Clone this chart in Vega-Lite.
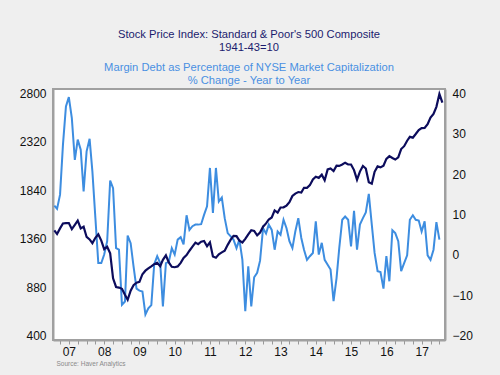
{
  "$schema": "https://vega.github.io/schema/vega-lite/v6.json",
  "width": 392,
  "height": 251,
  "autosize": {"type": "none"},
  "padding": {"left": 53, "top": 89, "right": 55, "bottom": 35},
  "background": "#efefef",
  "config": {
    "font": "Liberation Sans",
    "view": {"fill": "white", "stroke": "#a0a0a0", "strokeWidth": 2}
  },
  "title": {
    "text": ["Stock Price Index: Standard & Poor's 500 Composite", "1941-43=10"],
    "subtitle": ["Margin Debt as Percentage of NYSE Market Capitalization", "% Change - Year to Year"],
    "color": "#1b1b6e",
    "subtitleColor": "#4a90e2",
    "font": "Liberation Sans",
    "subtitleFont": "Liberation Sans",
    "fontSize": 11.2,
    "subtitleFontSize": 11.2,
    "fontWeight": "normal",
    "lineHeight": 12.5,
    "subtitleLineHeight": 13,
    "subtitlePadding": 9,
    "anchor": "middle",
    "offset": 1
  },
  "datasets": {
    "sp": [
      {"d": "2007-02-01", "v": 1444}, {"d": "2007-03-01", "v": 1407}, {"d": "2007-04-01", "v": 1463}, {"d": "2007-05-01", "v": 1511}, {"d": "2007-06-01", "v": 1515}, {"d": "2007-07-01", "v": 1515}, {"d": "2007-08-01", "v": 1455}, {"d": "2007-09-01", "v": 1497}, {"d": "2007-10-01", "v": 1539}, {"d": "2007-11-01", "v": 1463}, {"d": "2007-12-01", "v": 1479},
      {"d": "2008-01-01", "v": 1378}, {"d": "2008-02-01", "v": 1354}, {"d": "2008-03-01", "v": 1317}, {"d": "2008-04-01", "v": 1370}, {"d": "2008-05-01", "v": 1404}, {"d": "2008-06-01", "v": 1342}, {"d": "2008-07-01", "v": 1257}, {"d": "2008-08-01", "v": 1281}, {"d": "2008-09-01", "v": 1217}, {"d": "2008-10-01", "v": 969}, {"d": "2008-11-01", "v": 884}, {"d": "2008-12-01", "v": 878},
      {"d": "2009-01-01", "v": 866}, {"d": "2009-02-01", "v": 806}, {"d": "2009-03-01", "v": 757}, {"d": "2009-04-01", "v": 848}, {"d": "2009-05-01", "v": 902}, {"d": "2009-06-01", "v": 926}, {"d": "2009-07-01", "v": 935}, {"d": "2009-08-01", "v": 1010}, {"d": "2009-09-01", "v": 1045}, {"d": "2009-10-01", "v": 1067}, {"d": "2009-11-01", "v": 1088}, {"d": "2009-12-01", "v": 1110},
      {"d": "2010-01-01", "v": 1123}, {"d": "2010-02-01", "v": 1089}, {"d": "2010-03-01", "v": 1152}, {"d": "2010-04-01", "v": 1197}, {"d": "2010-05-01", "v": 1126}, {"d": "2010-06-01", "v": 1083}, {"d": "2010-07-01", "v": 1079}, {"d": "2010-08-01", "v": 1087}, {"d": "2010-09-01", "v": 1122}, {"d": "2010-10-01", "v": 1171}, {"d": "2010-11-01", "v": 1199}, {"d": "2010-12-01", "v": 1242},
      {"d": "2011-01-01", "v": 1282}, {"d": "2011-02-01", "v": 1322}, {"d": "2011-03-01", "v": 1307}, {"d": "2011-04-01", "v": 1331}, {"d": "2011-05-01", "v": 1338}, {"d": "2011-06-01", "v": 1287}, {"d": "2011-07-01", "v": 1325}, {"d": "2011-08-01", "v": 1185}, {"d": "2011-09-01", "v": 1173}, {"d": "2011-10-01", "v": 1207}, {"d": "2011-11-01", "v": 1226}, {"d": "2011-12-01", "v": 1243},
      {"d": "2012-01-01", "v": 1300}, {"d": "2012-02-01", "v": 1352}, {"d": "2012-03-01", "v": 1389}, {"d": "2012-04-01", "v": 1386}, {"d": "2012-05-01", "v": 1341}, {"d": "2012-06-01", "v": 1323}, {"d": "2012-07-01", "v": 1359}, {"d": "2012-08-01", "v": 1404}, {"d": "2012-09-01", "v": 1444}, {"d": "2012-10-01", "v": 1438}, {"d": "2012-11-01", "v": 1394}, {"d": "2012-12-01", "v": 1422},
      {"d": "2013-01-01", "v": 1480}, {"d": "2013-02-01", "v": 1512}, {"d": "2013-03-01", "v": 1551}, {"d": "2013-04-01", "v": 1570}, {"d": "2013-05-01", "v": 1640}, {"d": "2013-06-01", "v": 1619}, {"d": "2013-07-01", "v": 1669}, {"d": "2013-08-01", "v": 1671}, {"d": "2013-09-01", "v": 1688}, {"d": "2013-10-01", "v": 1721}, {"d": "2013-11-01", "v": 1783}, {"d": "2013-12-01", "v": 1807},
      {"d": "2014-01-01", "v": 1822}, {"d": "2014-02-01", "v": 1817}, {"d": "2014-03-01", "v": 1864}, {"d": "2014-04-01", "v": 1864}, {"d": "2014-05-01", "v": 1890}, {"d": "2014-06-01", "v": 1947}, {"d": "2014-07-01", "v": 1973}, {"d": "2014-08-01", "v": 1962}, {"d": "2014-09-01", "v": 1993}, {"d": "2014-10-01", "v": 1938}, {"d": "2014-11-01", "v": 2045}, {"d": "2014-12-01", "v": 2055},
      {"d": "2015-01-01", "v": 2029}, {"d": "2015-02-01", "v": 2083}, {"d": "2015-03-01", "v": 2080}, {"d": "2015-04-01", "v": 2094}, {"d": "2015-05-01", "v": 2112}, {"d": "2015-06-01", "v": 2095}, {"d": "2015-07-01", "v": 2094}, {"d": "2015-08-01", "v": 2039}, {"d": "2015-09-01", "v": 1944}, {"d": "2015-10-01", "v": 2024}, {"d": "2015-11-01", "v": 2080}, {"d": "2015-12-01", "v": 2054},
      {"d": "2016-01-01", "v": 1918}, {"d": "2016-02-01", "v": 1904}, {"d": "2016-03-01", "v": 2022}, {"d": "2016-04-01", "v": 2075}, {"d": "2016-05-01", "v": 2066}, {"d": "2016-06-01", "v": 2083}, {"d": "2016-07-01", "v": 2149}, {"d": "2016-08-01", "v": 2177}, {"d": "2016-09-01", "v": 2158}, {"d": "2016-10-01", "v": 2143}, {"d": "2016-11-01", "v": 2165}, {"d": "2016-12-01", "v": 2247},
      {"d": "2017-01-01", "v": 2275}, {"d": "2017-02-01", "v": 2329}, {"d": "2017-03-01", "v": 2367}, {"d": "2017-04-01", "v": 2359}, {"d": "2017-05-01", "v": 2395}, {"d": "2017-06-01", "v": 2434}, {"d": "2017-07-01", "v": 2454}, {"d": "2017-08-01", "v": 2456}, {"d": "2017-09-01", "v": 2493}, {"d": "2017-10-01", "v": 2557}, {"d": "2017-11-01", "v": 2593}, {"d": "2017-12-01", "v": 2664},
      {"d": "2018-01-01", "v": 2790}, {"d": "2018-02-01", "v": 2705}
    ],
    "md": [
      {"d": "2007-02-01", "v": 12.2}, {"d": "2007-03-01", "v": 11.4}, {"d": "2007-04-01", "v": 14.9}, {"d": "2007-05-01", "v": 27.2}, {"d": "2007-06-01", "v": 36.7}, {"d": "2007-07-01", "v": 39.0}, {"d": "2007-08-01", "v": 33.8}, {"d": "2007-09-01", "v": 23.5}, {"d": "2007-10-01", "v": 28.5}, {"d": "2007-11-01", "v": 26.0}, {"d": "2007-12-01", "v": 15.7},
      {"d": "2008-01-01", "v": 25.6}, {"d": "2008-02-01", "v": 28.7}, {"d": "2008-03-01", "v": 20.6}, {"d": "2008-04-01", "v": 9.1}, {"d": "2008-05-01", "v": -2.0}, {"d": "2008-06-01", "v": -2.0}, {"d": "2008-07-01", "v": 0.1}, {"d": "2008-08-01", "v": 3.4}, {"d": "2008-09-01", "v": 18.4}, {"d": "2008-10-01", "v": 16.5}, {"d": "2008-11-01", "v": 1.7}, {"d": "2008-12-01", "v": 1.3},
      {"d": "2009-01-01", "v": -12.3}, {"d": "2009-02-01", "v": -11.5}, {"d": "2009-03-01", "v": 4.8}, {"d": "2009-04-01", "v": 2.9}, {"d": "2009-05-01", "v": -2.8}, {"d": "2009-06-01", "v": -8.3}, {"d": "2009-07-01", "v": -8.8}, {"d": "2009-08-01", "v": -9.0}, {"d": "2009-09-01", "v": -14.7}, {"d": "2009-10-01", "v": -13.2}, {"d": "2009-11-01", "v": -12.4}, {"d": "2009-12-01", "v": -2.3},
      {"d": "2010-01-01", "v": -0.3}, {"d": "2010-02-01", "v": -2.0}, {"d": "2010-03-01", "v": -12.7}, {"d": "2010-04-01", "v": -2.0}, {"d": "2010-05-01", "v": -1.7}, {"d": "2010-06-01", "v": 1.7}, {"d": "2010-07-01", "v": 0.1}, {"d": "2010-08-01", "v": 3.8}, {"d": "2010-09-01", "v": 4.4}, {"d": "2010-10-01", "v": 2.6}, {"d": "2010-11-01", "v": 9.8}, {"d": "2010-12-01", "v": 6.2},
      {"d": "2011-01-01", "v": 7.1}, {"d": "2011-02-01", "v": 7.5}, {"d": "2011-03-01", "v": 7.5}, {"d": "2011-04-01", "v": 7.6}, {"d": "2011-05-01", "v": 9.9}, {"d": "2011-06-01", "v": 12.0}, {"d": "2011-07-01", "v": 21.5}, {"d": "2011-08-01", "v": 10.4}, {"d": "2011-09-01", "v": 21.5}, {"d": "2011-10-01", "v": 13.2}, {"d": "2011-11-01", "v": 14.2}, {"d": "2011-12-01", "v": 9.1},
      {"d": "2012-01-01", "v": 5.4}, {"d": "2012-02-01", "v": 4.6}, {"d": "2012-03-01", "v": 3.8}, {"d": "2012-04-01", "v": 1.7}, {"d": "2012-05-01", "v": 3.8}, {"d": "2012-06-01", "v": -1.2}, {"d": "2012-07-01", "v": -13.9}, {"d": "2012-08-01", "v": -2.8}, {"d": "2012-09-01", "v": -12.7}, {"d": "2012-10-01", "v": -5.5}, {"d": "2012-11-01", "v": -4.4}, {"d": "2012-12-01", "v": -1.4},
      {"d": "2013-01-01", "v": 6.6}, {"d": "2013-02-01", "v": 5.3}, {"d": "2013-03-01", "v": 7.5}, {"d": "2013-04-01", "v": 6.2}, {"d": "2013-05-01", "v": 1.3}, {"d": "2013-06-01", "v": 5.8}, {"d": "2013-07-01", "v": 5.0}, {"d": "2013-08-01", "v": 8.7}, {"d": "2013-09-01", "v": 6.6}, {"d": "2013-10-01", "v": 3.4}, {"d": "2013-11-01", "v": 1.7}, {"d": "2013-12-01", "v": 5.8},
      {"d": "2014-01-01", "v": 9.1}, {"d": "2014-02-01", "v": 4.2}, {"d": "2014-03-01", "v": 1.3}, {"d": "2014-04-01", "v": -1.2}, {"d": "2014-05-01", "v": -0.3}, {"d": "2014-06-01", "v": 0.5}, {"d": "2014-07-01", "v": 8.3}, {"d": "2014-08-01", "v": 0.1}, {"d": "2014-09-01", "v": 3.0}, {"d": "2014-10-01", "v": -1.2}, {"d": "2014-11-01", "v": -2.4}, {"d": "2014-12-01", "v": -3.6},
      {"d": "2015-01-01", "v": -11.4}, {"d": "2015-02-01", "v": -5.7}, {"d": "2015-03-01", "v": 1.7}, {"d": "2015-04-01", "v": 8.7}, {"d": "2015-05-01", "v": 9.5}, {"d": "2015-06-01", "v": 8.7}, {"d": "2015-07-01", "v": 2.1}, {"d": "2015-08-01", "v": 10.9}, {"d": "2015-09-01", "v": 1.3}, {"d": "2015-10-01", "v": 7.5}, {"d": "2015-11-01", "v": 9.1}, {"d": "2015-12-01", "v": 10.5},
      {"d": "2016-01-01", "v": 15.1}, {"d": "2016-02-01", "v": 7.5}, {"d": "2016-03-01", "v": 0.5}, {"d": "2016-04-01", "v": -4.0}, {"d": "2016-05-01", "v": -4.2}, {"d": "2016-06-01", "v": -8.3}, {"d": "2016-07-01", "v": -0.3}, {"d": "2016-08-01", "v": -6.5}, {"d": "2016-09-01", "v": 6.1}, {"d": "2016-10-01", "v": 5.4}, {"d": "2016-11-01", "v": 3.4}, {"d": "2016-12-01", "v": -4.0},
      {"d": "2017-01-01", "v": -2.0}, {"d": "2017-02-01", "v": -0.1}, {"d": "2017-03-01", "v": 8.7}, {"d": "2017-04-01", "v": 9.8}, {"d": "2017-05-01", "v": 8.7}, {"d": "2017-06-01", "v": 8.5}, {"d": "2017-07-01", "v": 5.8}, {"d": "2017-08-01", "v": 8.3}, {"d": "2017-09-01", "v": -0.1}, {"d": "2017-10-01", "v": -1.2}, {"d": "2017-11-01", "v": 1.3}, {"d": "2017-12-01", "v": 8.1},
      {"d": "2018-01-01", "v": 3.8}
    ]
  },
  "layer": [
    {
      "data": {"name": "md"},
      "mark": {"type": "line", "color": "#3d8de0", "strokeWidth": 2},
      "encoding": {
        "x": {
          "field": "d", "type": "temporal",
          "scale": {"type": "utc", "domain": [{"year": 2007, "month": 1, "date": 18, "utc": true}, {"year": 2018, "month": 2, "date": 28, "utc": true}]},
          "axis": {
            "orient": "bottom",
            "tickCount": {"interval": "month", "step": 3},
            "labelExpr": "utcmonth(datum.value) == 6 ? utcFormat(datum.value, '%y') : ''",
            "labelOverlap": false,
            "labelBound": false,
            "labelFlush": false,
            "grid": false,
            "tickSize": 4,
            "tickColor": "#999999",
            "domainColor": "#a0a0a0",
            "domainWidth": 2,
            "labelFontSize": 12,
            "labelColor": "#111111",
            "labelPadding": 2,
            "title": "Source: Haver Analytics",
            "titleFontSize": 6.5,
            "titleColor": "#8a8a8a",
            "titleFontWeight": "normal",
            "titleAnchor": "start",
            "titleAlign": "left",
            "titleX": 3,
            "titleY": 25,
            "titleBaseline": "alphabetic"
          }
        },
        "y": {
          "field": "v", "type": "quantitative",
          "scale": {"domain": [-21, 41], "nice": false, "zero": false},
          "axis": {
            "orient": "right",
            "values": [-20, -10, 0, 10, 20, 30, 40],
            "format": "d",
            "ticks": false,
            "grid": false,
            "labelPadding": 7,
            "labelFontSize": 12,
            "labelColor": "#111111",
            "domainColor": "#a0a0a0",
            "domainWidth": 2,
            "title": null
          }
        }
      }
    },
    {
      "data": {"name": "sp"},
      "mark": {"type": "line", "color": "#0c0c5c", "strokeWidth": 2.2},
      "encoding": {
        "x": {"field": "d", "type": "temporal"},
        "y": {
          "field": "v", "type": "quantitative",
          "scale": {"domain": [360, 2840], "nice": false, "zero": false},
          "axis": {
            "orient": "left",
            "values": [400, 880, 1360, 1840, 2320, 2800],
            "format": "d",
            "ticks": false,
            "grid": false,
            "labelPadding": 7,
            "labelFontSize": 12,
            "labelColor": "#111111",
            "domainColor": "#a0a0a0",
            "domainWidth": 2,
            "title": null
          }
        }
      }
    }
  ],
  "resolve": {"scale": {"y": "independent"}}
}
